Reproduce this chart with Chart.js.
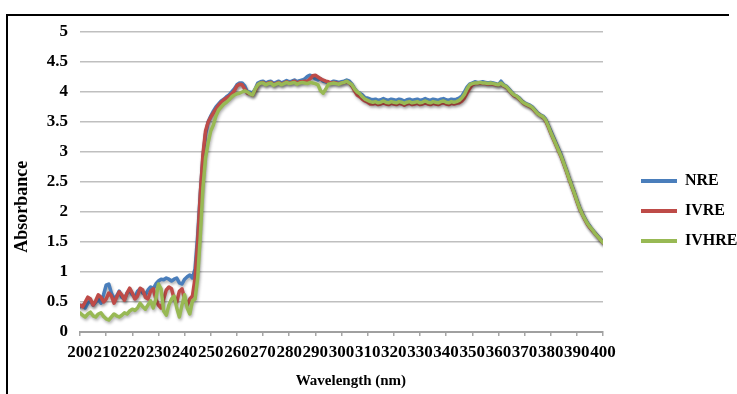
<!DOCTYPE html>
<html><head><meta charset="utf-8">
<script src="https://cdn.jsdelivr.net/npm/chart.js@4/dist/chart.umd.min.js"></script>
<style>
html,body{margin:0;padding:0;background:#fff;}
#wrap{position:relative;width:737px;height:394px;overflow:hidden;}
#frame{position:absolute;left:6px;top:14px;width:721px;height:400px;border-top:2px solid #000;border-left:2px solid #000;pointer-events:none;}
</style></head><body>
<div id="wrap"><canvas id="c" width="737" height="394"></canvas><div id="frame"></div></div>
<script>
const wavelengths = [
200,201,202,203,204,205,206,207,208,209,
210,211,212,213,214,215,216,217,218,219,
220,221,222,223,224,225,226,227,228,229,
230,231,232,233,234,235,236,237,238,239,
240,241,242,243,244,245,246,247,248,249,
250,251,252,253,254,255,256,257,258,259,
260,261,262,263,264,265,266,267,268,269,
270,271,272,273,274,275,276,277,278,279,
280,281,282,283,284,285,286,287,288,289,
290,291,292,293,294,295,296,297,298,299,
300,301,302,303,304,305,306,307,308,309,
310,311,312,313,314,315,316,317,318,319,
320,321,322,323,324,325,326,327,328,329,
330,331,332,333,334,335,336,337,338,339,
340,341,342,343,344,345,346,347,348,349,
350,351,352,353,354,355,356,357,358,359,
360,361,362,363,364,365,366,367,368,369,
370,371,372,373,374,375,376,377,378,379,
380,381,382,383,384,385,386,387,388,389,
390,391,392,393,394,395,396,397,398,399,
400];

const nre = [
0.42,0.45,0.40,0.48,0.52,0.45,0.50,0.55,0.48,0.62,
0.78,0.80,0.65,0.55,0.60,0.68,0.58,0.55,0.65,0.70,
0.62,0.58,0.68,0.72,0.65,0.62,0.70,0.75,0.72,0.80,
0.85,0.88,0.87,0.90,0.88,0.85,0.88,0.90,0.82,0.80,
0.88,0.92,0.95,0.90,1.05,1.60,2.30,2.90,3.30,3.50,
3.60,3.68,3.75,3.80,3.85,3.88,3.92,3.95,4.00,4.05,
4.12,4.15,4.15,4.10,4.00,4.00,3.98,4.05,4.15,4.17,
4.18,4.15,4.17,4.18,4.14,4.16,4.18,4.15,4.17,4.19,
4.17,4.18,4.20,4.17,4.19,4.20,4.22,4.26,4.28,4.25,
4.22,4.20,4.22,4.18,4.17,4.15,4.16,4.18,4.17,4.16,
4.17,4.18,4.20,4.18,4.13,4.05,4.00,3.98,3.95,3.90,
3.90,3.88,3.87,3.88,3.86,3.87,3.89,3.87,3.86,3.88,
3.87,3.86,3.88,3.87,3.85,3.87,3.88,3.86,3.87,3.88,
3.86,3.87,3.89,3.87,3.86,3.88,3.87,3.86,3.88,3.89,
3.87,3.86,3.88,3.87,3.88,3.90,3.93,4.00,4.08,4.13,
4.15,4.17,4.16,4.16,4.17,4.16,4.15,4.16,4.15,4.14,
4.12,4.18,4.12,4.10,4.05,4.00,3.95,3.93,3.90,3.85,
3.82,3.80,3.78,3.75,3.70,3.65,3.62,3.60,3.55,3.45,
3.35,3.25,3.15,3.05,2.95,2.82,2.70,2.57,2.45,2.33,
2.20,2.08,1.98,1.90,1.82,1.76,1.70,1.65,1.60,1.55,
1.50];

const ivre = [
0.45,0.42,0.50,0.58,0.55,0.45,0.52,0.62,0.58,0.50,
0.55,0.65,0.60,0.48,0.58,0.67,0.62,0.53,0.65,0.73,
0.65,0.55,0.60,0.73,0.70,0.58,0.55,0.68,0.72,0.55,
0.45,0.40,0.55,0.70,0.75,0.72,0.55,0.50,0.68,0.72,
0.55,0.45,0.55,0.60,0.90,1.50,2.30,2.95,3.35,3.50,
3.58,3.65,3.72,3.78,3.83,3.87,3.90,3.93,3.97,4.02,
4.10,4.13,4.12,4.05,3.98,3.97,3.95,4.03,4.12,4.15,
4.16,4.13,4.15,4.16,4.12,4.14,4.16,4.13,4.15,4.17,
4.15,4.16,4.18,4.15,4.17,4.17,4.18,4.18,4.22,4.27,
4.28,4.25,4.22,4.20,4.18,4.17,4.15,4.16,4.15,4.14,
4.15,4.16,4.17,4.15,4.10,4.02,3.95,3.92,3.88,3.85,
3.83,3.80,3.80,3.81,3.79,3.80,3.82,3.80,3.79,3.81,
3.80,3.79,3.81,3.80,3.78,3.80,3.81,3.79,3.80,3.81,
3.79,3.80,3.82,3.80,3.79,3.81,3.80,3.79,3.81,3.82,
3.80,3.79,3.81,3.80,3.81,3.82,3.85,3.90,3.98,4.06,
4.12,4.14,4.14,4.15,4.14,4.14,4.13,4.14,4.13,4.12,
4.12,4.14,4.10,4.08,4.03,3.98,3.94,3.92,3.88,3.84,
3.80,3.78,3.76,3.73,3.68,3.64,3.61,3.58,3.53,3.43,
3.32,3.22,3.12,3.02,2.92,2.80,2.68,2.55,2.43,2.31,
2.18,2.06,1.97,1.88,1.80,1.74,1.69,1.64,1.59,1.54,
1.49];

const ivhre = [
0.32,0.28,0.25,0.30,0.33,0.27,0.25,0.30,0.32,0.26,
0.22,0.20,0.25,0.30,0.27,0.25,0.28,0.32,0.30,0.35,
0.38,0.36,0.40,0.48,0.42,0.38,0.45,0.52,0.40,0.55,
0.80,0.72,0.35,0.28,0.45,0.55,0.60,0.40,0.25,0.45,
0.62,0.40,0.30,0.52,0.55,0.90,1.60,2.40,2.90,3.15,
3.35,3.45,3.60,3.70,3.75,3.80,3.83,3.87,3.92,3.95,
3.97,3.98,4.00,4.02,4.00,3.97,3.95,4.05,4.12,4.15,
4.15,4.12,4.14,4.15,4.11,4.13,4.15,4.12,4.14,4.16,
4.14,4.15,4.16,4.13,4.15,4.16,4.15,4.14,4.16,4.15,
4.14,4.12,4.02,3.98,4.05,4.13,4.14,4.15,4.14,4.13,
4.15,4.16,4.18,4.15,4.12,4.05,4.00,3.97,3.92,3.88,
3.86,3.84,3.83,3.84,3.82,3.83,3.85,3.83,3.82,3.84,
3.83,3.82,3.84,3.83,3.81,3.83,3.84,3.82,3.83,3.84,
3.82,3.83,3.85,3.83,3.82,3.84,3.83,3.82,3.84,3.85,
3.83,3.82,3.84,3.83,3.84,3.86,3.90,3.96,4.05,4.12,
4.14,4.15,4.15,4.16,4.15,4.15,4.14,4.15,4.14,4.13,
4.12,4.15,4.11,4.09,4.04,3.99,3.95,3.93,3.89,3.84,
3.81,3.79,3.77,3.74,3.69,3.64,3.61,3.59,3.54,3.44,
3.33,3.23,3.13,3.03,2.93,2.81,2.69,2.56,2.44,2.32,
2.19,2.07,1.97,1.89,1.81,1.75,1.70,1.64,1.59,1.54,
1.49];

const seriesNames = ['NRE', 'IVRE', 'IVHRE'];
const xTickLabels = ['200','210','220','230','240','250','260','270','280','290','300','310','320','330','340','350','360','370','380','390','400'];
const yTickLabels = ['0','0.5','1','1.5','2','2.5','3','3.5','4','4.5','5'];

const serif = "'Liberation Serif','Times New Roman',serif";
const colors = ['#4a7ebb', '#be4b48', '#98b954'];
const seriesData = [nre, ivre, ivhre];

const toPoints = arr => arr.map((v, i) => ({x: wavelengths[i], y: v}));

const shadowPlugin = {
  id: 'lineShadow',
  beforeDatasetDraw(chart) {
    const c = chart.ctx; c.save();
    c.shadowColor = 'rgba(0,0,0,0.30)'; c.shadowBlur = 3; c.shadowOffsetX = 1; c.shadowOffsetY = 2;
  },
  afterDatasetDraw(chart) { chart.ctx.restore(); }
};

new Chart(document.getElementById('c'), {
  type: 'line',
  data: {
    datasets: seriesNames.map((name, k) => ({
      label: name,
      data: toPoints(seriesData[k]),
      borderColor: colors[k],
      backgroundColor: colors[k],
      borderWidth: 3.5,
      pointRadius: 0,
      tension: 0,
      borderJoinStyle: 'round',
      borderCapStyle: 'round',
      order: 3 - k
    }))
  },
  options: {
    responsive: false,
    animation: false,
    devicePixelRatio: 1,
    layout: {padding: {left: 0, right: 0, top: 32, bottom: 4}},
    plugins: {
      tooltip: {enabled: false},
      legend: {
        position: 'right',
        maxWidth: 110,
        labels: {
          boxWidth: 36, boxHeight: 4, padding: 14, color: '#000',
          font: {family: serif, size: 16, weight: 'bold'},
          sort: (a, b) => a.datasetIndex - b.datasetIndex,
          generateLabels(chart) {
            const items = Chart.defaults.plugins.legend.labels.generateLabels(chart);
            items.forEach(it => { it.lineWidth = 0; it.fillStyle = it.strokeStyle; });
            return items;
          }
        }
      }
    },
    scales: {
      x: {
        type: 'linear', min: 200, max: 400,
        afterFit(s) { s.height = 58; },
        ticks: {stepSize: 10, autoSkip: false, maxRotation: 0, minRotation: 0, padding: 6, color: '#000',
          font: {family: serif, size: 17, weight: 'bold'},
          callback: (v, i) => xTickLabels[i]},
        grid: {drawOnChartArea: false, drawTicks: true, tickLength: 4, color: '#a6a6a6', lineWidth: 1.5},
        border: {display: true, color: '#a0a0a0', width: 2},
        title: {display: true, text: '     Wavelength (nm)', color: '#000',
          font: {family: serif, size: 15, weight: 'bold'}, padding: {top: 0, bottom: 0}}
      },
      y: {
        min: 0, max: 5,
        afterFit(s) { s.width = 80; },
        ticks: {stepSize: 0.5, padding: 12, color: '#000',
          font: {family: serif, size: 17, weight: 'bold'},
          callback: (v, i) => yTickLabels[i]},
        grid: {color: '#bfbfbf', lineWidth: 1.5, drawTicks: false},
        border: {display: false},
        title: {display: true, text: 'Absorbance           ', color: '#000',
          font: {family: serif, size: 18, weight: 'bold'}, padding: {top: 12, bottom: 0}}
      },
      yR: {
        type: 'linear', position: 'right', display: true,
        afterFit(s) { s.width = 24; },
        ticks: {display: false}, grid: {display: false}, border: {display: false}
      }
    }
  },
  plugins: [shadowPlugin]
});
</script></body></html>
